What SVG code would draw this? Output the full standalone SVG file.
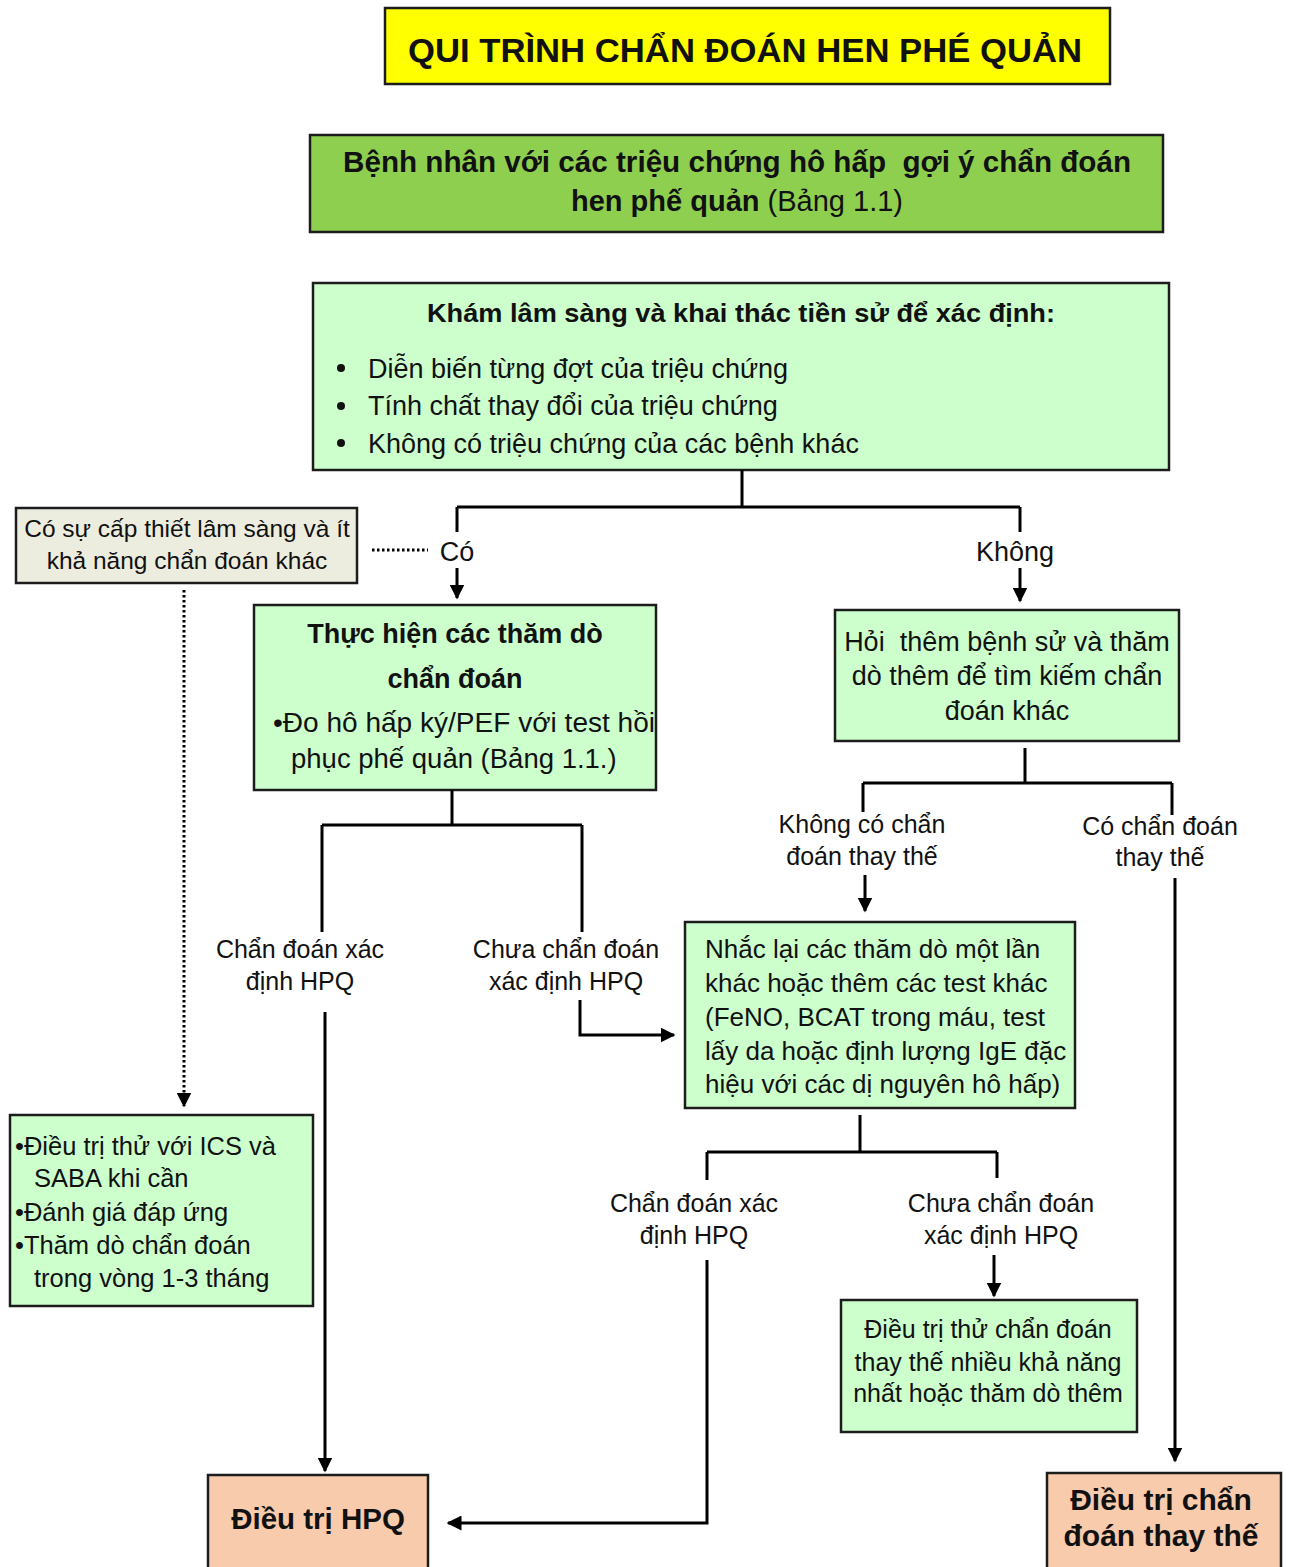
<svg xmlns="http://www.w3.org/2000/svg" width="1289" height="1567" viewBox="0 0 1289 1567">
<defs>
<marker id="ah" viewBox="0 0 10 10" refX="9" refY="5" markerWidth="5" markerHeight="5" orient="auto" markerUnits="strokeWidth">
<path d="M0,0 L10,5 L0,10 z" fill="#000"/>
</marker>
<style>
.box{stroke:#1c1c1c;stroke-width:2.5}
.lg{fill:#CCFFCC}
.mg{fill:#8ECF50}
.yl{fill:#FFFF00}
.pc{fill:#F8CBAD}
.gy{fill:#EDEDDF}
text{font-family:"Liberation Sans",Arial,sans-serif;fill:#111}
.b{font-weight:bold}
.c{text-anchor:middle}
.ln{fill:none;stroke:#000;stroke-width:3}
.dot{fill:none;stroke:#000;stroke-width:3;stroke-dasharray:2.5 2.5}
.t25{font-size:25px}
.t26{font-size:26px}
.t27{font-size:27px}
</style>
</defs>
<rect width="1289" height="1567" fill="#fff"/>

<g id="title">
<rect class="box yl" x="385" y="8" width="725" height="76"/>
<text class="b c" x="745" y="62" font-size="34" textLength="674" lengthAdjust="spacingAndGlyphs">QUI TRÌNH CHẨN ĐOÁN HEN PHÉ QUẢN</text>
</g>

<g id="patient">
<rect class="box mg" x="310" y="135" width="853" height="97"/>
<text class="b c" x="737" y="172" font-size="29" textLength="788" lengthAdjust="spacingAndGlyphs" xml:space="preserve">Bệnh nhân với các triệu chứng hô hấp  gợi ý chẩn đoán</text>
<text class="c" x="737" y="211" font-size="29"><tspan class="b">hen phế quản</tspan> (Bảng 1.1)</text>
</g>

<g id="exam">
<rect class="box lg" x="313" y="283" width="856" height="187"/>
<text class="b c" x="741" y="322" font-size="26" textLength="628" lengthAdjust="spacingAndGlyphs">Khám lâm sàng và khai thác tiền sử để xác định:</text>
<circle cx="341" cy="368" r="4" fill="#111"/>
<circle cx="341" cy="406" r="4" fill="#111"/>
<circle cx="341" cy="443" r="4" fill="#111"/>
<text class="t27" x="368" y="378">Diễn biến từng đợt của triệu chứng</text>
<text class="t27" x="368" y="415">Tính chất thay đổi của triệu chứng</text>
<text class="t27" x="368" y="453">Không có triệu chứng của các bệnh khác</text>
</g>

<g id="urgent">
<rect class="box gy" x="16" y="508" width="341" height="75"/>
<text class="c" font-size="24.5" x="187" y="537">Có sự cấp thiết lâm sàng và ít</text>
<text class="c" font-size="24.5" x="187" y="569">khả năng chẩn đoán khác</text>
</g>

<g id="tests">
<rect class="box lg" x="254" y="605" width="402" height="185"/>
<text class="b c t27" x="455" y="643">Thực hiện các thăm dò</text>
<text class="b c t27" x="455" y="688">chẩn đoán</text>
<text font-size="27.5" x="273" y="732" textLength="382" lengthAdjust="spacingAndGlyphs">•Đo hô hấp ký/PEF với test hồi</text>
<text font-size="27.5" x="291" y="768">phục phế quản (Bảng 1.1.)</text>
</g>

<g id="history">
<rect class="box lg" x="835" y="610" width="344" height="131"/>
<text class="t27 c" x="1007" y="651" xml:space="preserve">Hỏi  thêm bệnh sử và thăm</text>
<text class="t27 c" x="1007" y="685">dò thêm để tìm kiếm chẩn</text>
<text class="t27 c" x="1007" y="720">đoán khác</text>
</g>

<g id="trial">
<rect class="box lg" x="10" y="1115" width="303" height="191"/>
<text font-size="25.5" x="15" y="1155">•Điều trị thử với ICS và</text>
<text font-size="25.5" x="34" y="1187">SABA khi cần</text>
<text font-size="25.5" x="15" y="1221">•Đánh giá đáp ứng</text>
<text font-size="25.5" x="15" y="1254">•Thăm dò chẩn đoán</text>
<text font-size="25.5" x="34" y="1287">trong vòng 1-3 tháng</text>
</g>

<g id="repeat">
<rect class="box lg" x="685" y="922" width="390" height="186"/>
<text class="t26" x="705" y="958">Nhắc lại các thăm dò một lần</text>
<text class="t26" x="705" y="992">khác hoặc thêm các test khác</text>
<text class="t26" x="705" y="1026">(FeNO, BCAT trong máu, test</text>
<text class="t26" x="705" y="1060">lấy da hoặc định lượng IgE đặc</text>
<text class="t26" x="705" y="1093">hiệu với các dị nguyên hô hấp)</text>
</g>

<g id="alttrial">
<rect class="box lg" x="841" y="1300" width="296" height="132"/>
<text class="t25 c" x="988" y="1338">Điều trị thử chẩn đoán</text>
<text class="t25 c" x="988" y="1371">thay thế nhiều khả năng</text>
<text class="t25 c" x="988" y="1402">nhất hoặc thăm dò thêm</text>
</g>

<g id="treatHPQ">
<rect class="box pc" x="208" y="1475" width="220" height="95"/>
<text class="b c" x="318" y="1529" font-size="29.5">Điều trị HPQ</text>
</g>

<g id="treatAlt">
<rect class="box pc" x="1047" y="1473" width="234" height="97"/>
<text class="b c" x="1161" y="1510" font-size="30">Điều trị chẩn</text>
<text class="b c" x="1161" y="1546" font-size="30">đoán thay thế</text>
</g>

<g id="connectors">
<path class="ln" d="M742,470 V507 M457,507 H1020"/>
<path class="ln" d="M457,507 V532"/>
<path class="ln" d="M457,568 V598" marker-end="url(#ah)"/>
<path class="ln" d="M1020,507 V532"/>
<path class="ln" d="M1020,568 V601" marker-end="url(#ah)"/>
<path class="dot" d="M372,550 H428"/>
<path class="dot" d="M184,590 V1106" marker-end="url(#ah)"/>

<path class="ln" d="M452,790 V825 M322,825 H582 M322,825 V932 M582,825 V932"/>
<path class="ln" d="M325,1012 V1471" marker-end="url(#ah)"/>
<path class="ln" d="M580,1000 V1035 H674" marker-end="url(#ah)"/>

<path class="ln" d="M1025,748 V783 M863,783 H1172 M863,783 V812 M1172,783 V815"/>
<path class="ln" d="M865,875 V911" marker-end="url(#ah)"/>
<path class="ln" d="M1175,878 V1461" marker-end="url(#ah)"/>

<path class="ln" d="M860,1115 V1152 M707,1152 H997 M707,1152 V1180 M997,1152 V1178"/>
<path class="ln" d="M707,1260 V1523 H448" marker-end="url(#ah)"/>
<path class="ln" d="M994,1255 V1296" marker-end="url(#ah)"/>

<g font-size="25">
<text class="c" x="457" y="561" font-size="27">Có</text>
<text class="c" x="1015" y="561" font-size="27">Không</text>
<text class="c" x="300" y="958">Chẩn đoán xác</text>
<text class="c" x="300" y="990">định HPQ</text>
<text class="c" x="566" y="958">Chưa chẩn đoán</text>
<text class="c" x="566" y="990">xác định HPQ</text>
<text class="c" x="862" y="833">Không có chẩn</text>
<text class="c" x="862" y="865">đoán thay thế</text>
<text class="c" x="1160" y="835">Có chẩn đoán</text>
<text class="c" x="1160" y="866">thay thế</text>
<text class="c" x="694" y="1212">Chẩn đoán xác</text>
<text class="c" x="694" y="1244">định HPQ</text>
<text class="c" x="1001" y="1212">Chưa chẩn đoán</text>
<text class="c" x="1001" y="1244">xác định HPQ</text>
</g>
</g>
</svg>
